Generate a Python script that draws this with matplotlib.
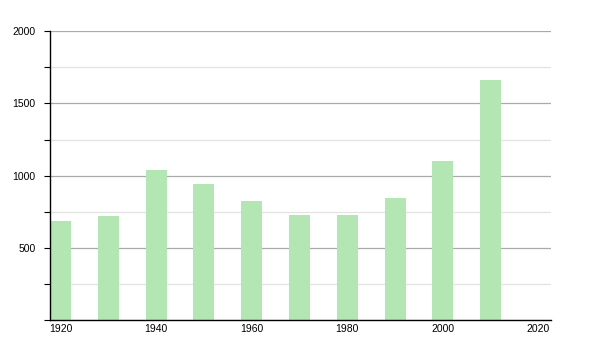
import numpy as np
import matplotlib.pyplot as plt
from matplotlib.ticker import MultipleLocator

jahre = [1920, 1930, 1940, 1950, 1960, 1970, 1980, 1990, 2000, 2010]
werte = [686, 720, 1039, 942, 824, 728, 728, 845, 1100, 1661]

plt.rcParams['font.family'] = ['Liberation Sans', 'DejaVu Sans']

fig = plt.figure(figsize=(6, 3.5), dpi=100)
ax = fig.add_axes([0.0833, 0.0857, 0.835, 0.825])

ax.bar(jahre, werte, width=4.4, color='#b3e6b3', edgecolor='none', zorder=2)

ax.set_xlim(1917.8, 2022.6)
ax.set_ylim(0, 2000)

ax.yaxis.set_major_locator(MultipleLocator(500))
ax.yaxis.set_minor_locator(MultipleLocator(250))
ax.xaxis.set_major_locator(MultipleLocator(20))

ax.grid(axis='y', which='major', color='#aaaaaa', lw=0.9, zorder=0)
ax.grid(axis='y', which='minor', color='#e3e3e3', lw=0.9, zorder=0)

ax.set_yticks([500, 1000, 1500, 2000])
ax.tick_params(axis='y', which='both', direction='out', length=4, width=0.8, labelsize=7.5, pad=6.5)
ax.tick_params(axis='x', length=0, labelsize=7.5, pad=3)

for s in ['top', 'right']:
    ax.spines[s].set_visible(False)
ax.spines['left'].set_linewidth(1)
ax.spines['bottom'].set_linewidth(1)

fig.savefig('out.png', dpi=100)
